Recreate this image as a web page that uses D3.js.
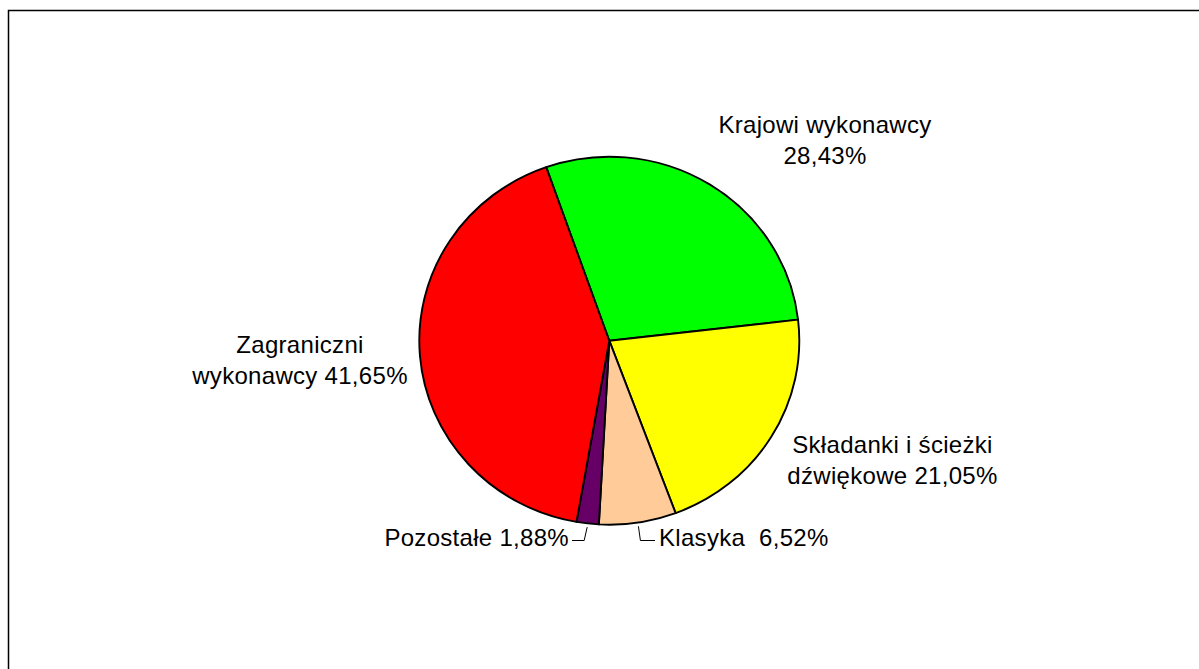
<!DOCTYPE html>
<html>
<head>
<meta charset="utf-8">
<script src="https://cdn.jsdelivr.net/npm/d3@7/dist/d3.min.js"></script>
<style>
  html, body { margin: 0; padding: 0; background: #fff; }
  svg { display: block; }
  text { font-family: "Liberation Sans", Arial, sans-serif; font-size: 24px; fill: #000; letter-spacing: 0.3px; }
</style>
</head>
<body>
<svg id="chart" width="1199" height="669"></svg>
<script>
// Market share by repertoire category (%)
const categories = ["Krajowi wykonawcy", "Składanki i ścieżki dźwiękowe", "Klasyka", "Pozostałe", "Zagraniczni wykonawcy"];
const shares = [28.43, 21.05, 6.52, 1.88, 41.65];
const shareLabels = ["28,43%", "21,05%", "6,52%", "1,88%", "41,65%"];
const colors = ["#00FF00", "#FFFF00", "#FFCC99", "#660066", "#FF0000"];

// Label text lines per slice
const labelLines = [
  ["Krajowi wykonawcy", "28,43%"],
  ["Składanki i ścieżki", "dźwiękowe 21,05%"],
  ["Klasyka  6,52%"],
  ["Pozostałe 1,88%"],
  ["Zagraniczni", "wykonawcy 41,65%"]
];

const svg = d3.select("#chart");

// outer frame (runs off the right and bottom of the page)
svg.append("rect")
  .attr("x", 8.5).attr("y", 10.5)
  .attr("width", 1400).attr("height", 800)
  .attr("fill", "none").attr("stroke", "#000").attr("stroke-width", 1.5);

const cx = 609.3, cy = 340.7, rx = 190, ry = 184;
const startDeg = -19.4;

const pie = d3.pie().sort(null).value(d => d)
  .startAngle(startDeg * Math.PI / 180)
  .endAngle((startDeg + 360) * Math.PI / 180);
const arcs = pie(shares);
const arc = d3.arc().innerRadius(0).outerRadius(rx);

const g = svg.append("g")
  .attr("transform", `translate(${cx},${cy}) scale(1,${ry / rx})`);

g.selectAll("path.slice")
  .data(arcs)
  .join("path")
  .attr("class", "slice")
  .attr("d", arc)
  .attr("fill", (d, i) => colors[i])
  .attr("stroke", "#000")
  .attr("stroke-width", 1.9)
  .attr("stroke-linejoin", "round")
  .attr("vector-effect", "non-scaling-stroke");

// point on the (elliptical) rim at a slice's mid angle
function rimPoint(d, k) {
  const a = (d.startAngle + d.endAngle) / 2;
  return [cx + rx * k * Math.sin(a), cy - ry * k * Math.cos(a)];
}

// label placement: anchor point, text-anchor
const labelLayout = [
  { x: 825, y: 132.5, anchor: "middle" },
  { x: 892.5, y: 453, anchor: "middle" },
  { x: 659, y: 546, anchor: "start" },
  { x: 569, y: 546, anchor: "end" },
  { x: 300, y: 353, anchor: "middle" }
];
const lineStep = 31;

const labels = svg.append("g");
arcs.forEach((d, i) => {
  const L = labelLayout[i];
  const t = labels.append("text")
    .attr("text-anchor", L.anchor)
    .attr("xml:space", "preserve")
    .style("white-space", "pre");
  labelLines[i].forEach((line, j) => {
    t.append("tspan").attr("x", L.x).attr("y", L.y + j * lineStep).text(line);
  });
});

// leader lines for the two small slices
const leaders = svg.append("g")
  .attr("fill", "none").attr("stroke", "#000").attr("stroke-width", 1);
{
  // Klasyka: down from the rim, then right to the label
  const p = rimPoint(arcs[2], 1.02);
  leaders.append("path").attr("d", d3.line()([[p[0], p[1]], [p[0] + 2, 540.5], [655, 540.5]]));
  // Pozostałe: down from the rim, then left to the label
  const q = rimPoint(arcs[3], 1.02);
  leaders.append("path").attr("d", d3.line()([[q[0], q[1]], [q[0] - 3, 540.5], [572, 540.5]]));
}
</script>
</body>
</html>
